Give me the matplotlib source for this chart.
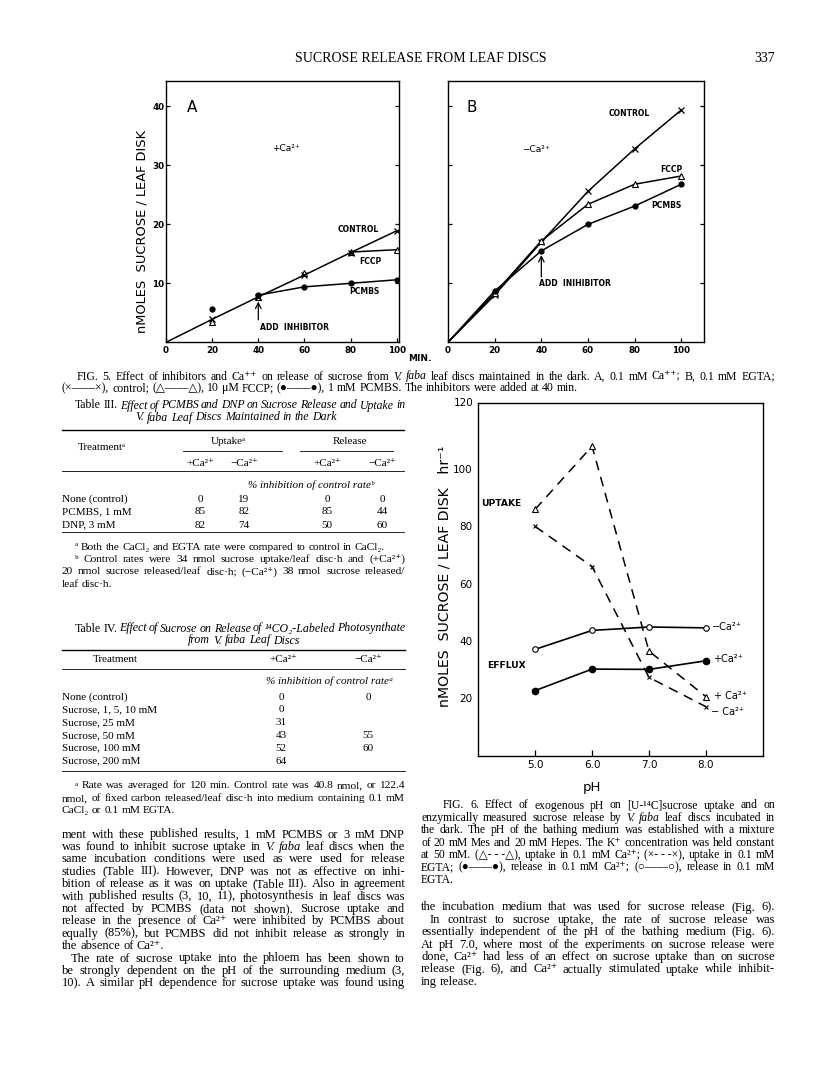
import matplotlib
matplotlib.use("Agg")
import matplotlib.pyplot as plt
from matplotlib.lines import Line2D

W, H = 816, 1073
SERIF = ["Liberation Serif", "DejaVu Serif", "DejaVu Sans"]
SANS = ["DejaVu Sans"]
plt.rcParams["font.family"] = SANS
plt.rcParams["lines.scale_dashes"] = False

# ---- Fig. 5 data (nmol sucrose / leaf disc vs. min) ----
minutes = [20, 40, 60, 80, 100]
a_control = [3.9, 7.7, 11.4, 15.2, 18.9]
a_fccp = [3.5, 7.6, 11.7, 15.3, 15.7]
a_pcmbs = [5.7, 8.0, 9.4, 10.0, 10.6]
b_control = [8.0, 17.0, 25.6, 32.8, 39.4]
b_fccp = [8.3, 17.2, 23.4, 26.8, 28.2]
b_pcmbs = [8.7, 15.5, 20.0, 23.1, 26.8]
min_ticks = [0, 20, 40, 60, 80, 100]
nmol_ticks = [10, 20, 30, 40]

# ---- Fig. 6 data (nmol sucrose / leaf disc / h vs. pH) ----
ph = [5.0, 6.0, 7.0, 8.0]
uptake_ca = [86.0, 108.0, 36.5, 20.6]
uptake_egta = [80.0, 66.0, 27.3, 17.1]
efflux_egta = [37.1, 43.7, 44.9, 44.6]
efflux_ca = [22.7, 30.2, 30.1, 33.1]
ph_ticks = [5.0, 6.0, 7.0, 8.0]
rate_ticks = [20, 40, 60, 80, 100]

# ---- tables ----
t3_rows = ["None (control)", "PCMBS, 1 mM", "DNP, 3 mM"]
t3_values = [["0", "19", "0", "0"], ["85", "82", "85", "44"], ["82", "74", "50", "60"]]
t4_rows = ["None (control)", "Sucrose, 1, 5, 10 mM", "Sucrose, 25 mM",
           "Sucrose, 50 mM", "Sucrose, 100 mM", "Sucrose, 200 mM"]
t4_ca = ["0", "0", "31", "43", "52", "64"]
t4_egta = ["0", "", "", "55", "60", ""]


def it(s):
    return " ".join("_" + w + "_" for w in s.split())


fig5_caption = [
    ("FIG. 5. Effect of inhibitors and Ca⁺⁺ on release of sucrose from _V._ _faba_ leaf discs "
     "maintained in the dark. A, 0.1 mM Ca⁺⁺; B, 0.1 mM EGTA;", "j", 15),
    ("(×——×), control; (△——△), 10 μM FCCP; (●——●), 1 mM PCMBS. "
     "The inhibitors were added at 40 min.", "l", 0),
]
t3_notes = [
    ("ᵃ Both the CaCl₂ and EGTA rate were compared to control in CaCl₂.", "l", 13),
    ("ᵇ Control rates were 34 nmol sucrose uptake/leaf disc·h and (+Ca²⁺)", "j", 13),
    ("20 nmol sucrose released/leaf disc·h; (−Ca²⁺) 38 nmol sucrose released/", "j", 0),
    ("leaf disc·h.", "l", 0),
]
t4_notes = [
    ("ᵃ Rate was averaged for 120 min. Control rate was 40.8 nmol, or 122.4", "j", 13),
    ("nmol, of fixed carbon released/leaf disc·h into medium containing 0.1 mM", "j", 0),
    ("CaCl₂ or 0.1 mM EGTA.", "l", 0),
]
body_left = [
    ("ment with these published results, 1 mM PCMBS or 3 mM DNP", "j", 0),
    ("was found to inhibit sucrose uptake in _V._ _faba_ leaf discs when the", "j", 0),
    ("same incubation conditions were used as were used for release", "j", 0),
    ("studies (Table III). However, DNP was not as effective on inhi-", "j", 0),
    ("bition of release as it was on uptake (Table III). Also in agreement", "j", 0),
    ("with published results (3, 10, 11), photosynthesis in leaf discs was", "j", 0),
    ("not affected by PCMBS (data not shown). Sucrose uptake and", "j", 0),
    ("release in the presence of Ca²⁺ were inhibited by PCMBS about", "j", 0),
    ("equally (85%), but PCMBS did not inhibit release as strongly in", "j", 0),
    ("the absence of Ca²⁺.", "l", 0),
    ("The rate of sucrose uptake into the phloem has been shown to", "j", 9),
    ("be strongly dependent on the pH of the surrounding medium (3,", "j", 0),
    ("10). A similar pH dependence for sucrose uptake was found using", "j", 0),
]
fig6_caption = [
    ("FIG. 6. Effect of exogenous pH on [U-¹⁴C]sucrose uptake and on", "j", 22),
    ("enzymically measured sucrose release by _V._ _faba_ leaf discs incubated in", "j", 0),
    ("the dark. The pH of the bathing medium was established with a mixture", "j", 0),
    ("of 20 mM Mes and 20 mM Hepes. The K⁺ concentration was held constant", "j", 0),
    ("at 50 mM. (△-~-~-△), uptake in 0.1 mM Ca²⁺; (×-~-~-×), uptake in 0.1 mM", "j", 0),
    ("EGTA; (●——●), release in 0.1 mM Ca²⁺; (○——○), release in 0.1 mM", "j", 0),
    ("EGTA.", "l", 0),
]
body_right = [
    ("the incubation medium that was used for sucrose release (Fig. 6).", "j", 0),
    ("In contrast to sucrose uptake, the rate of sucrose release was", "j", 9),
    ("essentially independent of the pH of the bathing medium (Fig. 6).", "j", 0),
    ("At pH 7.0, where most of the experiments on sucrose release were", "j", 0),
    ("done, Ca²⁺ had less of an effect on sucrose uptake than on sucrose", "j", 0),
    ("release (Fig. 6), and Ca²⁺ actually stimulated uptake while inhibit-", "j", 0),
    ("ing release.", "l", 0),
]

fig = plt.figure(figsize=(W / 100, H / 100), dpi=100)
rend = fig.canvas.get_renderer()


def put_words(line, x0, y, size, x1=None, center=None, weight="normal"):
    words = []
    for w in line.split(" "):
        if not w:
            continue
        style = "normal"
        if len(w) > 2 and w[0] == "_" and w[-1] == "_":
            w, style = w[1:-1], "italic"
        words.append((w.replace("~", " "), style))
    em = size * 100 / 72

    def build(sz):
        out = []
        for w, st in words:
            t = fig.text(0, 1 - (y + 3.5) / H, w, fontsize=sz, family=SERIF,
                         style=st, weight=weight, va="baseline")
            out.append([t, t.get_window_extent(rend).width])
        return out

    objs = build(size)
    total = sum(o[1] for o in objs)
    gap = 0.25 * em
    if x1 is not None and len(objs) > 1:
        need = total + (len(objs) - 1) * 0.2 * em
        if need > x1 - x0:
            for o in objs:
                o[0].remove()
            size = size * (x1 - x0) / need
            objs = build(size)
            total = sum(o[1] for o in objs)
        gap = (x1 - x0 - total) / (len(objs) - 1)
    if center is not None:
        x0 = center - (total + gap * (len(objs) - 1)) / 2
    x = x0
    for t, w in objs:
        t.set_x(x / W)
        x += w + gap


def put_block(lines, x0, x1, top, step, size):
    for i, (txt, mode, ind) in enumerate(lines):
        put_words(txt, x0 + ind, top + i * step, size, x1=x1 if mode == "j" else None)


def rule(x0, x1, y, lw=0.8):
    fig.add_artist(Line2D([x0 / W, x1 / W], [1 - y / H, 1 - y / H], color="k", lw=lw))


def ftext(x, y, s, **kw):
    fig.text(x / W, 1 - y / H, s, **kw)


def px_axes(left, top, right, bottom):
    return fig.add_axes([left / W, 1 - bottom / H, (right - left) / W, (bottom - top) / H])


# ---- running head ----
ftext(421, 59, "SUCROSE RELEASE FROM LEAF DISCS", family=SERIF, fontsize=10,
      ha="center", va="center")
ftext(775, 59, "337", family=SERIF, fontsize=10, ha="right", va="center")

# ---- Fig. 5 ----
axA = px_axes(166, 81, 399, 342.3)
axB = px_axes(448, 81, 704, 342.3)
for ax, xmax in ((axA, 101), (axB, 109.7)):
    ax.set_xlim(0, xmax)
    ax.set_ylim(0, 44.3)
    ax.set_xticks(min_ticks)
    ax.set_yticks(nmol_ticks)
    ax.tick_params(direction="in", length=3, width=0.9, right=True, labelsize=6.3, pad=2.5)
    ax.tick_params(axis="y", pad=1)
    for s in ax.spines.values():
        s.set_linewidth(1.0)
    for lab in ax.get_xticklabels() + ax.get_yticklabels():
        lab.set_fontweight("bold")
axB.tick_params(axis="y", labelleft=False)

axA.plot([0] + minutes, [0] + a_control, color="k", lw=1.1)
axA.plot(minutes[3:], a_fccp[3:], color="k", lw=1.1)
axA.plot(minutes[1:], a_pcmbs[1:], color="k", lw=1.1)
axA.plot(minutes, a_control, ls="none", marker="x", ms=4.5, mew=0.9, color="k")
axA.plot(minutes, a_fccp, ls="none", marker="^", ms=5, mfc="none", mec="k", mew=0.8)
axA.plot(minutes, a_pcmbs, ls="none", marker="o", ms=3.5, color="k")
axA.annotate("", xy=(40, 6.9), xytext=(40, 3.8),
             arrowprops=dict(arrowstyle="->", color="k", lw=0.9, shrinkA=0, shrinkB=0))

for vals in (b_control, b_fccp, b_pcmbs):
    axB.plot([0] + minutes, [0] + vals, color="k", lw=1.1)
axB.plot(minutes, b_control, ls="none", marker="x", ms=4.5, mew=0.9, color="k")
axB.plot(minutes, b_fccp, ls="none", marker="^", ms=5, mfc="white", mec="k", mew=0.8)
axB.plot(minutes, b_pcmbs, ls="none", marker="o", ms=3.5, color="k")
axB.annotate("", xy=(40, 14.8), xytext=(40, 11.1),
             arrowprops=dict(arrowstyle="->", color="k", lw=0.9, shrinkA=0, shrinkB=0))

lab = dict(fontsize=5.5, fontweight="bold", va="center")
ftext(192, 107, "A", fontsize=11, ha="center", va="center")
ftext(286, 148, "+Ca²⁺", fontsize=6.5, ha="center", va="center")
ftext(338, 229, "CONTROL", **lab)
ftext(359, 261, "FCCP", **lab)
ftext(349, 292, "PCMBS", **lab)
ftext(260, 327, "ADD  INHIBITOR", **lab)
ftext(472, 107, "B", fontsize=11, ha="center", va="center")
ftext(609, 114, "CONTROL", **lab)
ftext(522, 149, "−Ca²⁺", fontsize=6.5, va="center")
ftext(660, 169, "FCCP", **lab)
ftext(651, 205, "PCMBS", **lab)
ftext(539, 283, "ADD  INIHIBITOR", **lab)
ftext(141.7, 231.5, "nMOLES  SUCROSE / LEAF DISK", fontsize=9.4, rotation=90,
      ha="center", va="center")
ftext(420, 358, "MIN.", fontsize=6.5, fontweight="bold", ha="center", va="center")

put_block(fig5_caption, 62, 775, 376, 11.5, 8.5)

# ---- Table III ----
TS = 8.0
put_words("Table III. " + it("Effect of PCMBS and DNP on Sucrose Release and Uptake in"),
          75, 405, 8.6, x1=405)
put_words(it("V. faba Leaf Discs Maintained in the Dark"), 0, 417, 8.6, center=236)
rule(62, 404, 429.5, lw=1.0)
ftext(102, 447, "Treatmentᵃ", family=SERIF, fontsize=TS, ha="center", va="center")
ftext(228, 441, "Uptakeᵃ", family=SERIF, fontsize=TS, ha="center", va="center")
ftext(350, 441, "Release", family=SERIF, fontsize=TS, ha="center", va="center")
rule(183, 282, 451, lw=0.6)
rule(300, 393, 451, lw=0.6)
t3_cols = [200, 244, 327, 382]
for x, s in zip(t3_cols, ["+Ca²⁺", "−Ca²⁺", "+Ca²⁺", "−Ca²⁺"]):
    ftext(x, 463, s, family=SERIF, fontsize=TS, ha="center", va="center")
rule(62, 404, 471, lw=0.6)
ftext(311, 485, "% inhibition of control rateᵇ", family=SERIF, fontsize=TS,
      style="italic", ha="center", va="center")
for i, (name, vals) in enumerate(zip(t3_rows, t3_values)):
    y = 499 + 13 * i
    ftext(62, y, name, family=SERIF, fontsize=TS, va="center")
    for x, v in zip(t3_cols, vals):
        ftext(x, y, v, family=SERIF, fontsize=TS, ha="center", va="center")
rule(62, 404, 532, lw=0.6)
put_block(t3_notes, 62, 405, 546, 12.4, 8.2)

# ---- Table IV ----
put_words("Table IV. " + it("Effect of Sucrose on Release of ¹⁴CO₂-Labeled Photosynthate"),
          75, 628, 8.6, x1=405)
put_words(it("from V. faba Leaf Discs"), 0, 640, 8.6, center=244)
rule(62, 405, 650, lw=1.0)
ftext(115, 660, "Treatment", family=SERIF, fontsize=TS, ha="center", va="center")
ftext(283, 660, "+Ca²⁺", family=SERIF, fontsize=TS, ha="center", va="center")
ftext(368, 660, "−Ca²⁺", family=SERIF, fontsize=TS, ha="center", va="center")
rule(62, 405, 669, lw=0.6)
ftext(330, 681, "% inhibition of control rateᵃ", family=SERIF, fontsize=TS,
      style="italic", ha="center", va="center")
for i, name in enumerate(t4_rows):
    y = 697 + 12.8 * i
    ftext(62, y, name, family=SERIF, fontsize=TS, va="center")
    ftext(281, y, t4_ca[i], family=SERIF, fontsize=TS, ha="center", va="center")
    ftext(368, y, t4_egta[i], family=SERIF, fontsize=TS, ha="center", va="center")
rule(62, 405, 771, lw=0.6)
put_block(t4_notes, 62, 405, 785, 12.4, 8.2)

put_block(body_left, 62, 405, 834, 12.4, 9.0)

# ---- Fig. 6 ----
ax6 = px_axes(478.3, 403.3, 762.7, 755.6)
ax6.set_xlim(4, 9)
ax6.set_ylim(0, 123)
ax6.plot(ph, uptake_ca, color="k", lw=1.1, dashes=(7, 5))
ax6.plot(ph, uptake_egta, color="k", lw=1.1, dashes=(7, 5))
ax6.plot(ph, efflux_egta, color="k", lw=1.2)
ax6.plot(ph, efflux_ca, color="k", lw=1.2)
ax6.plot(ph, uptake_ca, ls="none", marker="^", ms=5, mfc="white", mec="k", mew=0.8)
ax6.plot(ph, uptake_egta, ls="none", marker="x", ms=3.5, mew=0.8, color="k")
ax6.plot(ph, efflux_egta, ls="none", marker="o", ms=4, mfc="white", mec="k", mew=0.8)
ax6.plot(ph, efflux_ca, ls="none", marker="o", ms=4.5, color="k")
ax6.set_xticks(ph_ticks)
ax6.set_xticklabels(["5.0", "6.0", "7.0", "8.0"])
ax6.set_yticks(rate_ticks)
ax6.tick_params(axis="x", direction="in", length=4, width=0.9, labelsize=7.5, pad=3)
ax6.tick_params(axis="y", length=0, labelsize=7.5, pad=4)
for s in ax6.spines.values():
    s.set_linewidth(1.0)
ftext(473.5, 403.3, "120", fontsize=7.5, ha="right", va="center")
ftext(445, 576, "nMOLES  SUCROSE / LEAF DISK   hr⁻¹", fontsize=10.2, rotation=90,
      ha="center", va="center")
ftext(592, 787, "pH", fontsize=9.5, ha="center", va="center")
ftext(501, 504, "UPTAKE", fontsize=6.6, fontweight="bold", ha="center", va="center")
ftext(506, 665, "EFFLUX", fontsize=6.6, fontweight="bold", ha="center", va="center")
ftext(712, 627, "−Ca²⁺", fontsize=7, va="center")
ftext(713, 659, "+Ca²⁺", fontsize=7, va="center")
ftext(714, 696, "+ Ca²⁺", fontsize=7, va="center")
ftext(711, 712, "− Ca²⁺", fontsize=7, va="center")

put_block(fig6_caption, 421, 775, 805, 12.4, 8.4)
put_block(body_right, 421, 775, 907, 12.4, 9.0)

fig.savefig("out.png", dpi=100)
